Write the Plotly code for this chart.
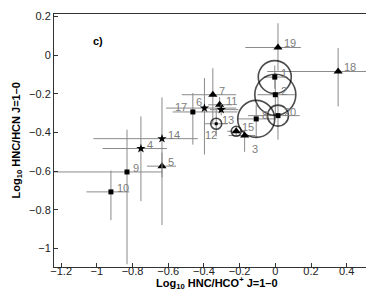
import plotly.graph_objects as go

# ---- data ----
ids = [1, 2, 3, 4, 5, 6, 7, 8, 9, 10, 11, 12, 13, 14, 15, 17, 18, 19, 20]
x_val = [-0.003, 0.0, -0.172, -0.753, -0.635, -0.397, -0.35, -0.107, -0.831, -0.921,
         -0.312, -0.303, -0.331, -0.635, -0.219, -0.462, 0.352, 0.015, 0.015]
y_val = [-0.114, -0.205, -0.416, -0.483, -0.574, -0.274, -0.205, -0.33, -0.604, -0.707,
         -0.257, -0.282, -0.355, -0.432, -0.394, -0.294, -0.085, 0.039, -0.313]
x_err_minus = [0.06, 0.10, 0.09, 0.215, 0.084, 0.215, 0.174, 0.103, 0.47, 0.137,
               0.064, 0.063, 0.066, 0.384, 0.05, 0.113, 0.397, 0.183, 0.168]
x_err_plus = [0.06, 0.11, 0.06, 0.146, 0.079, 0.178, 0.131, 0.107, 0.20, 0.103,
              0.069, 0.096, 0.065, 0.201, 0.05, 0.25, 0.30, 0.128, 0.122]
y_err_plus = [0.06, 0.11, 0.03, 0.166, 0.07, 0.155, 0.137, 0.073, 0.218, 0.11,
              0.04, 0.03, 0.081, 0.213, 0.02, 0.098, 0.121, 0.125, 0.108]
y_err_minus = [0.06, 0.11, 0.084, 0.272, 0.304, 0.24, 0.146, 0.098, 0.477, 0.146,
               0.04, 0.03, 0.065, 0.2, 0.02, 0.169, 0.18, 0.12, 0.124]
kind = ["square", "square", "triangle", "star", "triangle", "star", "triangle", "square",
        "square", "square", "triangle", "star", "dot", "star", "triangle", "square",
        "triangle", "triangle", "square"]
ring_ids = [1, 2, 8, 20, 13, 15]
ring_diam = [33, 41, 37, 21, 11, 10]

x_ticks = [-1.2, -1, -0.8, -0.6, -0.4, -0.2, 0, 0.2, 0.4]
x_tick_text = ["\u22121.2", "\u22121", "\u22120.8", "\u22120.6", "\u22120.4", "\u22120.2", "0", "0.2", "0.4"]
y_ticks = [0.2, 0, -0.2, -0.4, -0.6, -0.8, -1]
y_tick_text = ["0.2", "0", "\u22120.2", "\u22120.4", "\u22120.6", "\u22120.8", "\u22121"]

# ---- style ----
FONT = "Liberation Sans, Arial, Helvetica, sans-serif"
ERR = "#8a8a8a"
LBL = "#7d7d7d"
symbols = {"square": ("square", 5), "triangle": ("triangle-up", 8),
           "star": ("star", 7), "dot": ("square", 3)}
# label offsets in px (dx, dy, xanchor)
label_off = {3: (5, 13, "left"), 12: (-10, 25, "center"), 6: (-5, -6, "center"),
             17: (-12, -5, "center")}

fig = go.Figure()

for k, (sym, sz) in symbols.items():
    idx = [i for i, t in enumerate(kind) if t == k]
    fig.add_trace(go.Scatter(
        x=[x_val[i] for i in idx], y=[y_val[i] for i in idx], mode="markers",
        marker=dict(symbol=sym, size=sz, color="black", line=dict(width=0)),
        error_x=dict(type="data", symmetric=False,
                     array=[x_err_plus[i] for i in idx],
                     arrayminus=[x_err_minus[i] for i in idx],
                     color=ERR, thickness=1, width=0),
        error_y=dict(type="data", symmetric=False,
                     array=[y_err_plus[i] for i in idx],
                     arrayminus=[y_err_minus[i] for i in idx],
                     color=ERR, thickness=1, width=0),
        showlegend=False, hoverinfo="skip", cliponaxis=True))

ri = [ids.index(r) for r in ring_ids]
fig.add_trace(go.Scatter(
    x=[x_val[i] for i in ri], y=[y_val[i] for i in ri], mode="markers",
    marker=dict(symbol="circle-open", size=ring_diam, color="black",
                line=dict(width=1.6, color="black")),
    showlegend=False, hoverinfo="skip"))

for i, n in enumerate(ids):
    dx, dy, xa = label_off.get(n, (4, -4, "left"))
    fig.add_annotation(x=x_val[i], y=y_val[i], text=str(n), showarrow=False,
                       xshift=dx, yshift=-dy, xanchor=xa, yanchor="middle",
                       font=dict(family=FONT, size=11, color=LBL))

fig.add_annotation(x=-0.992, y=0.07, text="<b>c)</b>", showarrow=False,
                   xanchor="center", yanchor="middle",
                   font=dict(family=FONT, size=11, color="black"))

# axis titles
fig.add_annotation(x=0.5, y=0, xref="paper", yref="paper", yshift=-16,
                   text="<b>Log<sub>10</sub> HNC/HCO<sup>+</sup> J=1\u20130</b>",
                   showarrow=False, xanchor="center", yanchor="middle",
                   font=dict(family=FONT, size=11, color="black"))
fig.add_annotation(x=0, y=0.5, xref="paper", yref="paper", xshift=-38,
                   text="<b>Log<sub>10</sub> HNC/HCN J=1\u20130</b>", textangle=-90,
                   showarrow=False, xanchor="center", yanchor="middle",
                   font=dict(family=FONT, size=11, color="black"))

axis_common = dict(showgrid=False, zeroline=False, showline=True, linecolor="#333333",
                   linewidth=1, mirror=True, ticks="inside", ticklen=4,
                   tickcolor="#333333", tickfont=dict(family=FONT, size=11, color="#222222"))

fig.update_layout(
    width=374, height=291,
    margin=dict(l=46, r=3, t=6, b=32),
    paper_bgcolor="white", plot_bgcolor="white",
    font=dict(family=FONT),
    xaxis=dict(range=[-1.24, 0.581], tickvals=x_ticks, ticktext=x_tick_text,
               ticklabelstandoff=-6, **axis_common),
    yaxis=dict(range=[-1.095, 0.212], tickvals=y_ticks, ticktext=y_tick_text,
               **axis_common),
)

fig.write_html("out.html")
